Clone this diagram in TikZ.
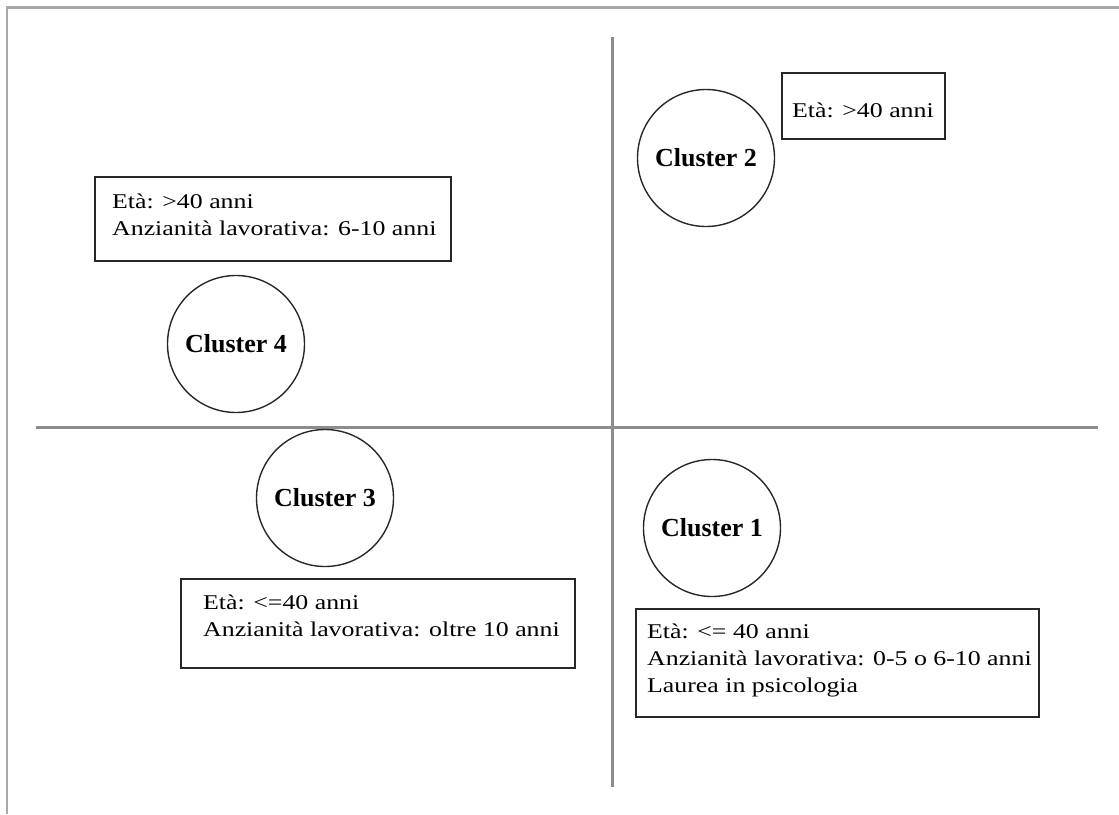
\documentclass[tikz,border=0pt]{standalone}
\usepackage{fontspec}
\setmainfont{Liberation Serif}
\newfontfamily\boxfont{Liberation Serif}[FakeStretch=1.23]
\definecolor{axisgray}{RGB}{140,140,140}
\definecolor{framegray}{RGB}{168,168,168}
\definecolor{inkc}{RGB}{40,40,40}
\begin{document}
\begin{tikzpicture}[x=1pt,y=-1pt,
  cluster/.style={circle, draw=inkc, line width=1.4pt, minimum size=137pt, inner sep=0pt,
    font=\bfseries\fontsize{26}{30}\selectfont},
  infobox/.style={draw=inkc, line width=1.7pt, inner sep=0pt, anchor=north west},
  infotext/.style={anchor=base west, align=left, inner sep=0pt,
    font=\boxfont\fontsize{21}{27}\selectfont},
  axisline/.style={draw=axisgray, line width=3pt},
  frameline/.style={draw=framegray, line width=2.5pt}]
\useasboundingbox (0,0) rectangle (1119,814);
% frame
\draw[frameline] (7,814) -- (7,7.5) -- (1119,7.5);
% axes
\coordinate (vtop) at (612,37);
\coordinate (vbot) at (612,787);
\coordinate (hleft) at (36,427);
\coordinate (hright) at (1098,427);
\draw[axisline] (vtop) -- (vbot);
\draw[axisline] (hleft) -- (hright);
% clusters
\node[cluster] (c2) at (706,158) {Cluster 2};
\node[cluster] (c4) at (236,344) {Cluster 4};
\node[cluster] (c3) at (325,498) {Cluster 3};
\node[cluster] (c1) at (712,528) {Cluster 1};
% boxes (text anchored at the baseline of its last line)
\node[infobox, minimum width=356pt, minimum height=84pt] (b4) at (94,176) {};
\node[infotext] (t4) at (112,235) {Età: >40 anni\\Anzianità lavorativa: 6-10 anni};
\node[infobox, minimum width=163pt, minimum height=66pt] (b2) at (781,72) {};
\node[infotext] (t2) at (792,117) {Età: >40 anni};
\node[infobox, minimum width=394pt, minimum height=89pt] (b3) at (180,578) {};
\node[infotext] (t3) at (203,636) {Età: <=40 anni\\Anzianità lavorativa: oltre 10 anni};
\node[infobox, minimum width=403pt, minimum height=108pt] (b1) at (635,608) {};
\node[infotext] (t1) at (647,692) {Età: <= 40 anni\\Anzianità lavorativa: 0-5 o 6-10 anni\\Laurea in psicologia};
\end{tikzpicture}
\end{document}
